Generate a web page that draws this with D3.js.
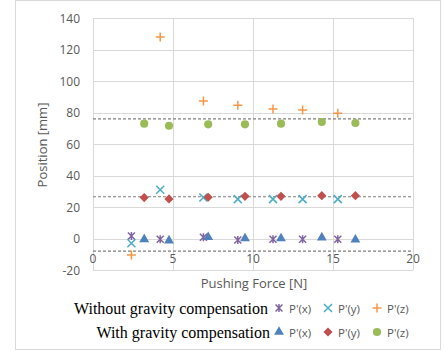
<!DOCTYPE html>
<html>
<head>
<meta charset="utf-8">
<script src="https://cdn.jsdelivr.net/npm/d3@7/dist/d3.min.js"></script>
<style>
  body { margin: 0; background: #fff; }
  svg { display: block; }
</style>
</head>
<body>
<div id="plot"></div>
<script>
// data
const xTicks = [0, 5, 10, 15, 20];
const yTicks = [-20, 0, 20, 40, 60, 80, 100, 120, 140];

const forceWithout = [2.4, 4.2, 6.9, 9.05, 11.25, 13.1, 15.3];
const withoutX = [1.6, -0.5, 0.8, -1.0, -0.5, -0.5, -0.5];
const withoutY = [-3, 31, 26, 25, 25, 25, 25];
const withoutZ = [-10.5, 128, 87.3, 84.6, 82.2, 81.6, 79.5];

const forceWith = [3.2, 4.75, 7.2, 9.5, 11.75, 14.3, 16.4];
const withX = [-0.5, -1.3, 0.8, 0.1, 0.1, 0.6, -0.7];
const withY = [26, 25.1, 26.2, 26.8, 26.8, 27.2, 27.2];
const withZ = [72.9, 71.6, 72.5, 72.5, 72.9, 74, 73.3];

const refLines = [76, 26.5, -8];
const seriesNames = ["P'(x)", "P'(y)", "P'(z)"];

const width = 444, height = 352;
const plotLeft = 93, plotRight = 413, plotTop = 18, plotBottom = 270;
const grey = "#595959", grid = "#d9d9d9";
const font = "'Open Sans', Lato, sans-serif";

const svg = d3.select("#plot").append("svg")
  .attr("width", width)
  .attr("height", height);

// chart border
svg.append("rect")
  .attr("x", 15.5).attr("y", 0.5)
  .attr("width", 425).attr("height", 349)
  .attr("fill", "#fff").attr("stroke", grid);

const x = d3.scaleLinear().domain([0, 20]).range([plotLeft, plotRight]);
const y = d3.scaleLinear().domain([-20, 140]).range([plotBottom, plotTop]);

// gridlines
svg.append("g").selectAll("line").data(yTicks).enter().append("line")
  .attr("x1", plotLeft).attr("x2", plotRight)
  .attr("y1", d => Math.round(y(d)) + 0.5).attr("y2", d => Math.round(y(d)) + 0.5)
  .attr("stroke", grid);
svg.append("g").selectAll("line").data(xTicks).enter().append("line")
  .attr("y1", plotTop).attr("y2", plotBottom)
  .attr("x1", d => Math.round(x(d)) + 0.5).attr("x2", d => Math.round(x(d)) + 0.5)
  .attr("stroke", grid);

// dashed reference lines
svg.append("g").selectAll("line").data(refLines).enter().append("line")
  .attr("x1", plotLeft).attr("x2", plotRight)
  .attr("y1", d => y(d)).attr("y2", d => y(d))
  .attr("stroke", "#7f7f7f").attr("stroke-width", 1.2)
  .attr("stroke-dasharray", "3,2");

// y axis labels
svg.append("g").selectAll("text").data(yTicks).enter().append("text")
  .attr("x", 80).attr("y", d => y(d))
  .attr("text-anchor", "end").attr("dominant-baseline", "central")
  .attr("font-family", font).attr("font-size", 12).attr("fill", grey)
  .text(d => d);

// x axis labels
svg.append("g").selectAll("text").data(xTicks).enter().append("text")
  .attr("x", d => x(d)).attr("y", 258)
  .attr("text-anchor", "middle").attr("dominant-baseline", "central")
  .attr("font-family", font).attr("font-size", 12).attr("fill", grey)
  .text(d => d);

svg.append("text")
  .attr("x", 254).attr("y", 288)
  .attr("text-anchor", "middle")
  .attr("font-family", font).attr("font-size", 13).attr("fill", grey)
  .text("Pushing Force [N]");

svg.append("text")
  .attr("transform", "translate(47,145) rotate(-90)")
  .attr("text-anchor", "middle")
  .attr("font-family", font).attr("font-size", 13).attr("fill", grey)
  .text("Position [mm]");

// marker shapes
const markers = {
  star: { d: "M-3.5,-3.5L3.5,3.5M-3.5,3.5L3.5,-3.5M0,-4L0,4", color: "#8064a2", stroke: true },
  cross: { d: "M-4,-4L4,4M-4,4L4,-4", color: "#4bacc6", stroke: true },
  plus: { d: "M-4.5,0L4.5,0M0,-4.5L0,4.5", color: "#f79646", stroke: true },
  triangle: { d: d3.symbol(d3.symbolTriangle, 42)(), color: "#4f81bd" },
  diamond: { d: "M0,-4.6L4.6,0L0,4.6L-4.6,0Z", color: "#c0504d" },
  circle: { d: d3.symbol(d3.symbolCircle, 52)(), color: "#9bbb59" }
};

function drawMarker(g, m, cx, cy) {
  const p = g.append("path")
    .attr("d", m.d)
    .attr("transform", "translate(" + cx + "," + cy + ")");
  if (m.stroke) {
    p.attr("fill", "none").attr("stroke", m.color).attr("stroke-width", 1.5);
  } else {
    p.attr("fill", m.color);
  }
}

const series = [
  { xs: forceWithout, ys: withoutX, m: markers.star },
  { xs: forceWithout, ys: withoutY, m: markers.cross },
  { xs: forceWithout, ys: withoutZ, m: markers.plus },
  { xs: forceWith, ys: withX, m: markers.triangle },
  { xs: forceWith, ys: withY, m: markers.diamond },
  { xs: forceWith, ys: withZ, m: markers.circle }
];

const pts = svg.append("g");
series.forEach(s => {
  s.ys.forEach((v, i) => drawMarker(pts, s.m, x(s.xs[i]), y(v)));
});

// legend
const legend = svg.append("g");
const rows = [
  { label: "Without gravity compensation", ms: [markers.star, markers.cross, markers.plus], ty: 308, tx: 268 },
  { label: "With gravity compensation", ms: [markers.triangle, markers.diamond, markers.circle], ty: 332, tx: 270 }
];
rows.forEach(r => {
  legend.append("text")
    .attr("x", r.tx).attr("y", r.ty)
    .attr("text-anchor", "end").attr("dominant-baseline", "central")
    .attr("font-family", "'Liberation Serif', 'Times New Roman', serif")
    .attr("font-size", 16).attr("fill", "#000")
    .text(r.label);
  r.ms.forEach((m, i) => {
    const mx = 279 + i * 49;
    drawMarker(legend, m, mx, r.ty);
    legend.append("text")
      .attr("x", mx + 10).attr("y", r.ty)
      .attr("dominant-baseline", "central")
      .attr("font-family", font).attr("font-size", 11.5).attr("fill", grey)
      .text(seriesNames[i]);
  });
});
</script>
</body>
</html>
